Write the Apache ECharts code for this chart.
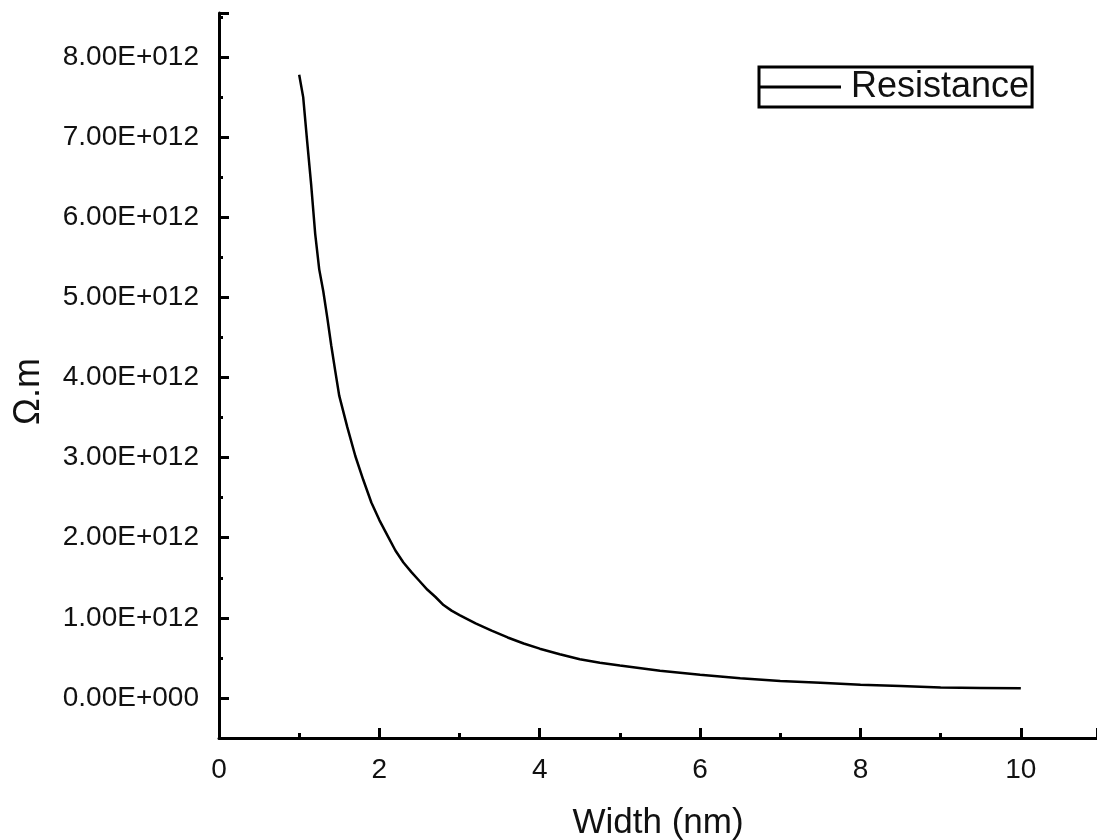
<!DOCTYPE html>
<html>
<head>
<meta charset="utf-8">
<script src="https://cdn.jsdelivr.net/npm/echarts@6/dist/echarts.min.js"></script>
<style>
  html, body { margin: 0; padding: 0; background: #ffffff; }
  #chart { width: 1097px; height: 840px; }
</style>
</head>
<body>
<div id="chart"></div>
<script>
const seriesName = 'Resistance';
const xAxisTitle = 'Width (nm)';
const yAxisTitle = 'Ω.m';
const widths = [1.0, 1.05, 1.1, 1.15, 1.2, 1.25, 1.3, 1.35, 1.4, 1.45, 1.5, 1.6, 1.7, 1.8, 1.9, 2.0, 2.1, 2.2, 2.3, 2.4, 2.5, 2.6, 2.7, 2.8, 2.9, 3.0, 3.2, 3.4, 3.6, 3.8, 4.0, 4.25, 4.5, 4.75, 5.0, 5.5, 6.0, 6.5, 7.0, 7.5, 8.0, 8.5, 9.0, 9.5, 10.0];
const resistance = [7.78e12, 7.5e12, 6.94e12, 6.4e12, 5.79e12, 5.35e12, 5.08e12, 4.75e12, 4.4e12, 4.08e12, 3.77e12, 3.38e12, 3.02e12, 2.72e12, 2.44e12, 2.22e12, 2.03e12, 1.84e12, 1.69e12, 1.57e12, 1.46e12, 1.35e12, 1.26e12, 1.16e12, 1.09e12, 1.035e12, 0.93e12, 0.84e12, 0.755e12, 0.68e12, 0.615e12, 0.545e12, 0.483e12, 0.44e12, 0.405e12, 0.34e12, 0.29e12, 0.245e12, 0.21e12, 0.19e12, 0.165e12, 0.15e12, 0.13e12, 0.125e12, 0.12e12];

const points = widths.map((w, i) => [w, resistance[i]]);
const FONT = "'Liberation Sans', Arial, sans-serif";

function yLabel(v) {
  if (Math.abs(v) < 1) return '0.00E+000';
  return (v / 1e12).toFixed(2) + 'E+012';
}

const chart = echarts.init(document.getElementById('chart'), null, { renderer: 'canvas' });
chart.setOption({
  backgroundColor: '#ffffff',
  animation: false,
  grid: { left: 219, top: 13, right: 0, bottom: 102, containLabel: false, outerBoundsMode: 'none' },
  legend: {
    show: true,
    left: 759,
    top: 67,
    orient: 'horizontal',
    padding: [0, 3, 0, 0],
    borderColor: '#000',
    borderWidth: 3,
    itemWidth: 82,
    itemHeight: 3,
    data: [{ name: seriesName, icon: 'rect' }],
    textStyle: { fontFamily: FONT, fontSize: 36, color: '#111', lineHeight: 40, padding: [0, 0, 0, 5] }
  },
  xAxis: {
    type: 'value',
    min: 0,
    max: 10.95,
    interval: 2,
    name: xAxisTitle,
    nameLocation: 'middle',
    nameGap: 68,
    nameTextStyle: { fontFamily: FONT, fontSize: 35, color: '#111' },
    axisLine: { show: true, onZero: false, lineStyle: { color: '#000', width: 3 } },
    axisTick: { show: true, inside: true, length: 10, lineStyle: { color: '#000', width: 3 } },
    minorTick: { show: true, splitNumber: 2, length: 5, lineStyle: { color: '#000', width: 3 } },
    axisLabel: { fontFamily: FONT, fontSize: 28, color: '#111', margin: 18, showMaxLabel: false },
    splitLine: { show: false }
  },
  yAxis: {
    type: 'value',
    min: -0.5e12,
    max: 8.55e12,
    splitNumber: 9,
    minInterval: 1e12,
    maxInterval: 1e12,
    name: yAxisTitle,
    nameLocation: 'middle',
    nameRotate: 90,
    nameGap: 172,
    nameTextStyle: { fontFamily: FONT, fontSize: 36, color: '#111', padding: [0, 32, 0, 0] },
    axisLine: { show: true, onZero: false, lineStyle: { color: '#000', width: 3 } },
    axisTick: { show: true, inside: true, length: 10, lineStyle: { color: '#000', width: 3 } },
    minorTick: { show: true, splitNumber: 2, length: 4, lineStyle: { color: '#000', width: 3 } },
    axisLabel: {
      fontFamily: FONT, fontSize: 28, color: '#111', margin: 20,
      showMinLabel: false, showMaxLabel: false,
      padding: [0, 0, 10, 0],
      formatter: yLabel
    },
    splitLine: { show: false }
  },
  series: [{
    name: seriesName,
    type: 'line',
    data: points,
    showSymbol: false,
    symbol: 'none',
    smooth: false,
    lineStyle: { color: '#000', width: 2.5 },
    itemStyle: { color: '#000' }
  }]
});
</script>
</body>
</html>
